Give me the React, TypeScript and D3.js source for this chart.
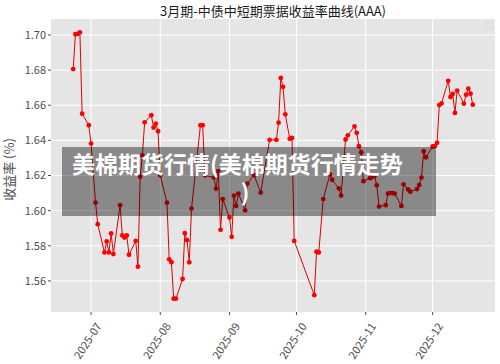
import React from 'react';
import { scaleLinear, scaleUtc, line, extent, utcParse, utcMonth } from 'd3';

// 3月期-中债中短期票据收益率曲线(AAA), daily closes
const dates = [
	'2025-06-23', '2025-06-24', '2025-06-25', '2025-06-26', '2025-06-27', '2025-06-30',
	'2025-07-01', '2025-07-03', '2025-07-04', '2025-07-07', '2025-07-08', '2025-07-09',
	'2025-07-10', '2025-07-11', '2025-07-14', '2025-07-15', '2025-07-16', '2025-07-17',
	'2025-07-18', '2025-07-21', '2025-07-22', '2025-07-23', '2025-07-24', '2025-07-25',
	'2025-07-28', '2025-07-29', '2025-07-30', '2025-07-31', '2025-08-01', '2025-08-04',
	'2025-08-05', '2025-08-06', '2025-08-07', '2025-08-08', '2025-08-11', '2025-08-12',
	'2025-08-13', '2025-08-14', '2025-08-15', '2025-08-19', '2025-08-20', '2025-08-21',
	'2025-08-25', '2025-08-26', '2025-08-27', '2025-08-28', '2025-08-29', '2025-09-01',
	'2025-09-02', '2025-09-03', '2025-09-04', '2025-09-05', '2025-09-08', '2025-09-09',
	'2025-09-12', '2025-09-15', '2025-09-19', '2025-09-22', '2025-09-23', '2025-09-24',
	'2025-09-25', '2025-09-26', '2025-09-28', '2025-09-29', '2025-09-30', '2025-10-09',
	'2025-10-10', '2025-10-11', '2025-10-13', '2025-10-16', '2025-10-17', '2025-10-20',
	'2025-10-21', '2025-10-23', '2025-10-24', '2025-10-27', '2025-10-28', '2025-10-29',
	'2025-10-30', '2025-10-31', '2025-11-03', '2025-11-04', '2025-11-05', '2025-11-06',
	'2025-11-07', '2025-11-10', '2025-11-11', '2025-11-12', '2025-11-13', '2025-11-14',
	'2025-11-17', '2025-11-18', '2025-11-20', '2025-11-21', '2025-11-24', '2025-11-25',
	'2025-11-26', '2025-11-27', '2025-11-28', '2025-12-01', '2025-12-02', '2025-12-03',
	'2025-12-04', '2025-12-05', '2025-12-08', '2025-12-09', '2025-12-10', '2025-12-11',
	'2025-12-12', '2025-12-15', '2025-12-16', '2025-12-17', '2025-12-18', '2025-12-19',
];

const yields = [
	1.6806, 1.7004, 1.7006, 1.7015, 1.6552, 1.6486,
	1.6382, 1.6046, 1.5923, 1.5762, 1.5825, 1.5762,
	1.587, 1.5753, 1.6031, 1.5859, 1.5847, 1.5859,
	1.5749, 1.5828, 1.5681, 1.6193, 1.6314, 1.6503,
	1.6543, 1.6473, 1.6495, 1.6452, 1.6201, 1.6046,
	1.5723, 1.5707, 1.5499, 1.5499, 1.5611, 1.5872,
	1.5832, 1.5706, 1.6012, 1.6486, 1.6486, 1.6201,
	1.6188, 1.6125, 1.6225, 1.5891, 1.6066, 1.5961,
	1.5851, 1.6086, 1.6027, 1.6097, 1.6002, 1.6154,
	1.6202, 1.6103, 1.6403, 1.6403, 1.6501, 1.6755,
	1.6705, 1.6548, 1.6409, 1.6414, 1.5828, 1.5519,
	1.5766, 1.5762, 1.6066, 1.6206, 1.6176, 1.6127,
	1.6086, 1.6405, 1.6429, 1.648, 1.6443, 1.6367,
	1.6331, 1.6168, 1.6185, 1.6193, 1.6197, 1.6144,
	1.6023, 1.6031, 1.6097, 1.61, 1.61, 1.6097,
	1.6027, 1.615, 1.6121, 1.6108, 1.6123, 1.6146,
	1.6188, 1.6338, 1.6304, 1.6365, 1.6367, 1.6386,
	1.6601, 1.6611, 1.6739, 1.6647, 1.6664, 1.6556,
	1.6683, 1.6609, 1.666, 1.6694, 1.6666, 1.6603,
];

const yTicks = [1.56, 1.58, 1.6, 1.62, 1.64, 1.66, 1.68, 1.7];

const title = '3月期-中债中短期票据收益率曲线(AAA)';
const yTitle = '收益率 (%)';
const bannerLine1 = '美棉期货行情(美棉期货行情走势';
const bannerLine2 = ')';

const W = 500;
const H = 364;
const panel = { left: 51, right: 495, top: 19, bottom: 312 };
const FONT = '"Noto Sans CJK SC", "Noto Sans", sans-serif';

const parse = utcParse('%Y-%m-%d');

export default function App() {
	const data = dates.map((d, i) => ({ date: parse(d), value: yields[i] }));

	// ggplot style 5% expansion on both axes
	const [x0, x1] = extent(data, (d) => d.date);
	const xPad = (panel.right - panel.left) * 0.05;
	const x = scaleUtc()
		.domain([x0, x1])
		.range([panel.left + xPad, panel.right - xPad]);

	const [v0, v1] = extent(data, (d) => d.value);
	const vPad = (v1 - v0) * 0.05;
	const y = scaleLinear()
		.domain([v0 - vPad, v1 + vPad])
		.range([panel.bottom, panel.top]);

	const xTicks = utcMonth.range(utcMonth.ceil(x0), x1);
	const fmtMonth = (d) =>
		`${d.getUTCFullYear()}-${String(d.getUTCMonth() + 1).padStart(2, '0')}`;

	const path = line()
		.x((d) => x(d.date))
		.y((d) => y(d.value))(data);

	return (
		<svg
			width={W}
			height={H}
			style={{ position: 'absolute', left: 0, top: 0, background: '#fff' }}
			fontFamily={FONT}>
			{/* panel */}
			<rect
				x={panel.left}
				y={panel.top}
				width={panel.right - panel.left}
				height={panel.bottom - panel.top}
				fill="#E5E5E5"
			/>
			{yTicks.map((t) => (
				<line
					key={'gy' + t}
					x1={panel.left}
					x2={panel.right}
					y1={y(t)}
					y2={y(t)}
					stroke="#fff"
					strokeWidth={1}
				/>
			))}
			{xTicks.map((t) => (
				<line
					key={'gx' + t.getTime()}
					x1={x(t)}
					x2={x(t)}
					y1={panel.top}
					y2={panel.bottom}
					stroke="#fff"
					strokeWidth={1}
				/>
			))}

			{/* series */}
			<path d={path} fill="none" stroke="#E00000" strokeWidth={1} />
			{data.map((d, i) => (
				<circle key={i} cx={x(d.date)} cy={y(d.value)} r={2.4} fill="#FF0000" />
			))}

			{/* empty legend key */}
			<rect x={486} y={22} width={6} height={6} fill="none" stroke="#D0D0D0" strokeWidth={0.6} />

			{/* y axis */}
			{yTicks.map((t) => (
				<g key={'ty' + t}>
					<line x1={panel.left - 3} x2={panel.left} y1={y(t)} y2={y(t)} stroke="#4D4D4D" />
					<text
						x={panel.left - 5}
						y={y(t)}
						dy="0.35em"
						textAnchor="end"
						fontSize={11}
						fill="#4D4D4D">
						{t.toFixed(2)}
					</text>
				</g>
			))}
			<text
				transform={`translate(14, ${(panel.top + panel.bottom) / 2 + 4}) rotate(-90)`}
				textAnchor="middle"
				fontSize={13}
				fill="#4D4D4D">
				{yTitle}
			</text>

			{/* x axis */}
			{xTicks.map((t) => (
				<g key={'tx' + t.getTime()}>
					<line x1={x(t)} x2={x(t)} y1={panel.bottom} y2={panel.bottom + 3} stroke="#4D4D4D" />
					<text
						transform={`translate(${x(t) + 11}, ${panel.bottom + 14}) rotate(-57)`}
						textAnchor="end"
						fontSize={11}
						fill="#4D4D4D">
						{fmtMonth(t)}
					</text>
				</g>
			))}

			{/* title */}
			<text
				x={(panel.left + panel.right) / 2}
				y={16}
				textAnchor="middle"
				fontSize={13}
				fill="#1A1A1A">
				{title}
			</text>

			{/* watermark banner */}
			<rect x={62} y={147} width={374} height={69} fill="#000" fillOpacity={0.4} />
			<text x={72} y={173} fontSize={23} fontWeight="bold" fill="#fff">
				{bannerLine1}
			</text>
			<text x={245} y={201} textAnchor="middle" fontSize={23} fontWeight="bold" fill="#fff">
				{bannerLine2}
			</text>
		</svg>
	);
}
